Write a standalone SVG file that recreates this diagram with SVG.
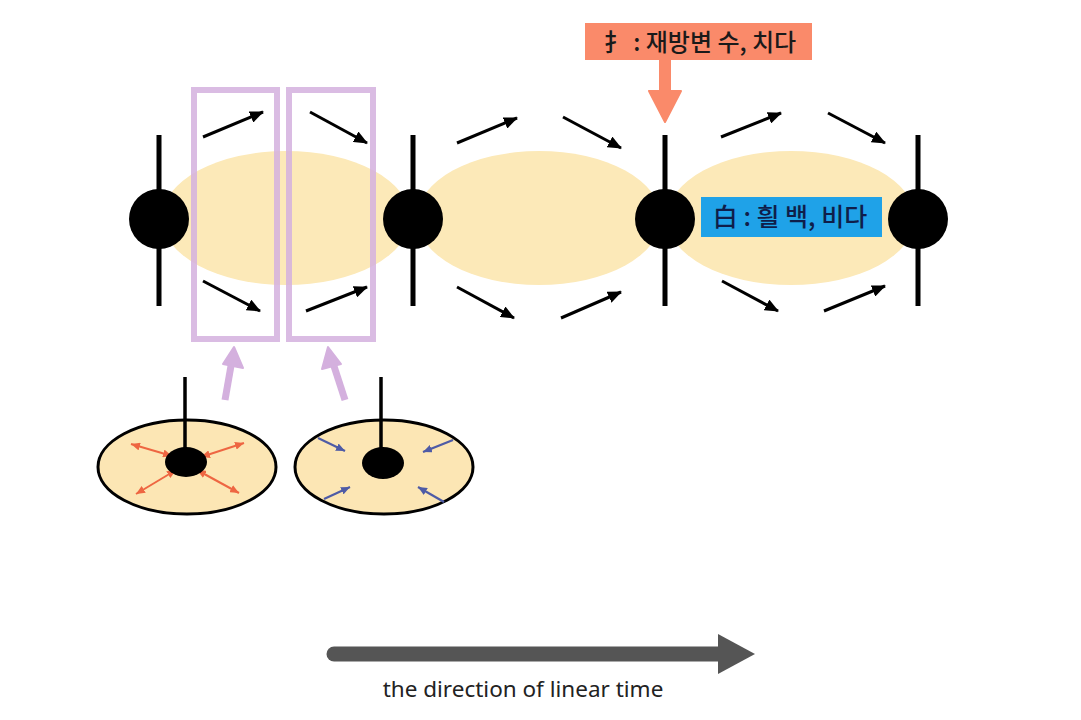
<svg xmlns="http://www.w3.org/2000/svg" width="1081" height="720" viewBox="0 0 1081 720">
<defs>
<style>
.band{fill:#FCE9B8}
.frame{fill:none;stroke:#D4B0DE;stroke-width:6;opacity:0.85}
.axis{stroke:#000;stroke-width:5}
.node{fill:#000}
.flow{stroke:#000;stroke-width:3;fill:none;marker-end:url(#ah)}
.disk{fill:#FCE6B4;stroke:#000;stroke-width:3}
.out{stroke:#EE6642;stroke-width:2;fill:none;marker-end:url(#ahr);marker-start:url(#ahr)}
.in{stroke:#4E5BA6;stroke-width:2.2;fill:none;marker-end:url(#ahb)}
.up{stroke:#D4B0DE;stroke-width:7;fill:none}
.ko{font-family:"Noto Sans CJK KR","Noto Sans",sans-serif;font-size:24px;font-weight:500}
.en{font-family:"Noto Sans","Open Sans",sans-serif;font-size:22.5px;fill:#222}
</style>
<marker id="ah" markerUnits="userSpaceOnUse" markerWidth="15" markerHeight="12" refX="13" refY="6" orient="auto"><path d="M0,0 L14,6 L0,12 Z" fill="#000"/></marker>
<marker id="ahr" markerUnits="userSpaceOnUse" markerWidth="10" markerHeight="8" refX="9" refY="4" orient="auto-start-reverse"><path d="M0,0 L9,4 L0,8 Z" fill="#EE6642"/></marker>
<marker id="ahb" markerUnits="userSpaceOnUse" markerWidth="10" markerHeight="8" refX="9" refY="4" orient="auto"><path d="M0,0 L9,4 L0,8 Z" fill="#4E5BA6"/></marker>
</defs>
<rect width="1081" height="720" fill="#fff"/>

<g id="bands">
<ellipse class="band" cx="286" cy="218" rx="124" ry="67"/>
<ellipse class="band" cx="539" cy="218" rx="122" ry="67"/>
<ellipse class="band" cx="791" cy="218" rx="124" ry="67"/>
</g>

<g id="frames">
<rect class="frame" x="194" y="90" width="83" height="249"/>
<rect class="frame" x="289" y="90" width="84" height="249"/>
</g>

<g id="node-1"><line class="axis" x1="159" y1="135" x2="159" y2="306"/><circle class="node" cx="159" cy="219" r="30"/></g>
<g id="node-2"><line class="axis" x1="413" y1="135" x2="413" y2="306"/><circle class="node" cx="413" cy="219" r="30"/></g>
<g id="node-3"><line class="axis" x1="665" y1="135" x2="665" y2="306"/><circle class="node" cx="665" cy="219" r="30"/></g>
<g id="node-4"><line class="axis" x1="918" y1="135" x2="918" y2="306"/><circle class="node" cx="918" cy="219" r="30"/></g>

<g id="connectors">
<line class="flow" x1="203" y1="137" x2="263" y2="112"/>
<line class="flow" x1="310" y1="112" x2="367" y2="143"/>
<line class="flow" x1="203" y1="281" x2="260" y2="311"/>
<line class="flow" x1="306" y1="311" x2="367" y2="287"/>
<line class="flow" x1="457" y1="143" x2="517" y2="118"/>
<line class="flow" x1="563" y1="117" x2="621" y2="148"/>
<line class="flow" x1="457" y1="287" x2="514" y2="318"/>
<line class="flow" x1="561" y1="318" x2="621" y2="292"/>
<line class="flow" x1="721" y1="137" x2="781" y2="113"/>
<line class="flow" x1="828" y1="113" x2="885" y2="143"/>
<line class="flow" x1="722" y1="281" x2="778" y2="311"/>
<line class="flow" x1="824" y1="311" x2="885" y2="286"/>
<path class="up" d="M225,400 L232,360"/>
<path d="M234,347 L243,368 L223,364 Z" fill="#D4B0DE" stroke="#D4B0DE" stroke-width="2" stroke-linejoin="round"/>
<path class="up" d="M345,400 L332,360"/>
<path d="M328,347 L322,369 L341,364 Z" fill="#D4B0DE" stroke="#D4B0DE" stroke-width="2" stroke-linejoin="round"/>
</g>

<g id="label-hand">
<rect x="585" y="23" width="227" height="37" fill="#FA8A6A"/>
<text class="ko" x="700" y="51" text-anchor="middle" fill="#1a1a1a">扌 : 재방변 수, 치다</text>
<rect x="659" y="59" width="12" height="33" fill="#FA8A6A"/>
<path d="M649,91 L681,91 L665,122 Z" fill="#FA8A6A" stroke="#FA8A6A" stroke-width="2" stroke-linejoin="round"/>
</g>

<g id="label-white">
<rect x="701" y="197" width="181" height="40" fill="#1FA2E8"/>
<text class="ko" x="790" y="226" text-anchor="middle" fill="#0F1E4A" style="font-size:25px">白 : 흴 백, 비다</text>
</g>

<g id="disk-out">
<ellipse class="disk" cx="187" cy="467" rx="89" ry="47"/>
<line x1="172" y1="456" x2="131" y2="444" class="out"/>
<line x1="201" y1="457" x2="244" y2="443" class="out"/>
<line x1="176" y1="470" x2="136" y2="494" class="out"/>
<line x1="197" y1="470" x2="239" y2="493" class="out"/>
<line x1="185" y1="377" x2="185" y2="460" stroke="#000" stroke-width="3.5"/>
<ellipse cx="186" cy="462" rx="21" ry="15" fill="#000"/>
</g>

<g id="disk-in">
<ellipse class="disk" cx="384" cy="467" rx="89" ry="47"/>
<line x1="318" y1="438" x2="345" y2="451" class="in"/>
<line x1="453" y1="440" x2="423" y2="452" class="in"/>
<line x1="324" y1="499" x2="350" y2="487" class="in"/>
<line x1="444" y1="502" x2="418" y2="487" class="in"/>
<line x1="381" y1="377" x2="381" y2="460" stroke="#000" stroke-width="3.5"/>
<ellipse cx="383" cy="463" rx="21" ry="16" fill="#000"/>
</g>

<g id="time">
<line x1="334" y1="654" x2="720" y2="654" stroke="#555" stroke-width="15" stroke-linecap="round"/>
<path d="M718,634 L755,654 L718,674 Z" fill="#555"/>
<text class="en" x="523" y="697" text-anchor="middle">the direction of linear time</text>
</g>
</svg>
